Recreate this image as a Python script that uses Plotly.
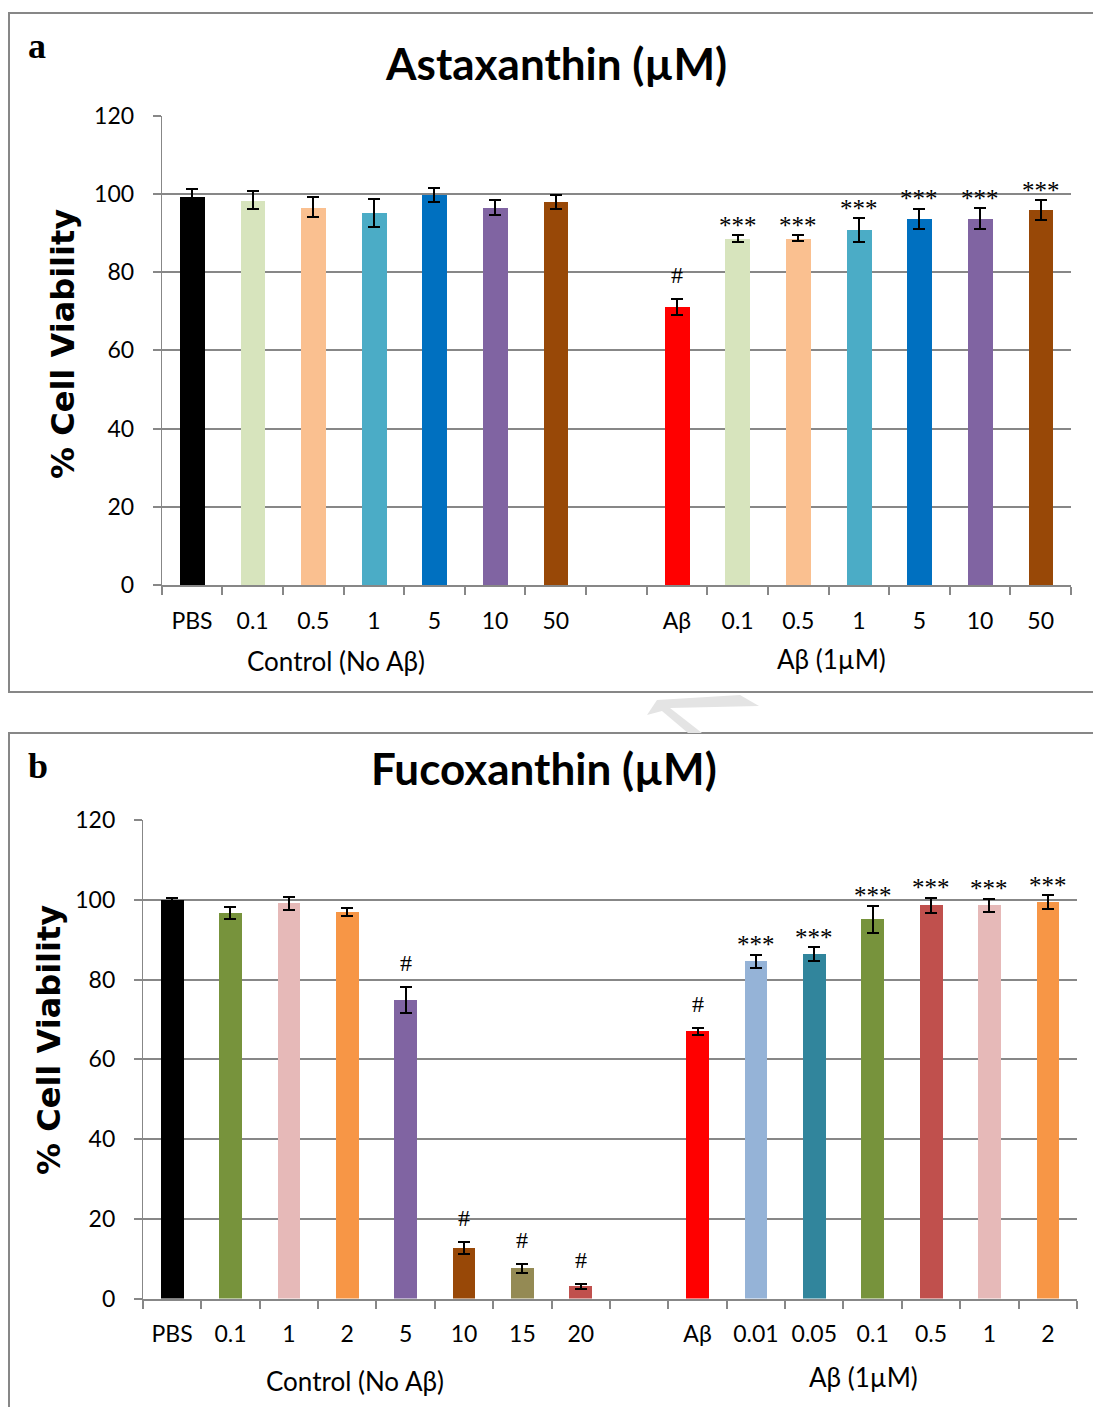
import plotly.graph_objects as go

W, H = 1093, 1407

# ---------------- data ----------------
# Panel a: Astaxanthin
a_ctrl_labels = ["PBS", "0.1", "0.5", "1", "5", "10", "50"]
a_ctrl_values = [99.2, 98.4, 96.6, 95.1, 99.7, 96.4, 98.0]
a_ctrl_errors = [1.9, 2.2, 2.5, 3.5, 1.8, 1.9, 1.8]
a_ctrl_sig = ["", "", "", "", "", "", ""]
a_ctrl_colors = ["#000000", "#D7E4BD", "#FAC090", "#4BACC6", "#0070C0", "#8064A2", "#984807"]

a_ab_labels = ["Aβ", "0.1", "0.5", "1", "5", "10", "50"]
a_ab_values = [71.1, 88.5, 88.7, 90.8, 93.6, 93.6, 95.9]
a_ab_errors = [2.0, 0.85, 0.75, 3.0, 2.6, 2.7, 2.5]
a_ab_sig = ["#", "***", "***", "***", "***", "***", "***"]
a_ab_colors = ["#FF0000", "#D7E4BD", "#FAC090", "#4BACC6", "#0070C0", "#8064A2", "#984807"]

# Panel b: Fucoxanthin
b_ctrl_labels = ["PBS", "0.1", "1", "2", "5", "10", "15", "20"]
b_ctrl_values = [99.9, 96.6, 99.1, 96.9, 74.8, 12.7, 7.6, 3.1]
b_ctrl_errors = [0.6, 1.5, 1.65, 1.0, 3.25, 1.5, 1.1, 0.65]
b_ctrl_sig = ["", "", "", "", "#", "#", "#", "#"]
b_ctrl_colors = ["#000000", "#77933C", "#E6B9B8", "#F79646", "#8064A2", "#984807", "#948A54", "#C0504D"]

b_ab_labels = ["Aβ", "0.01", "0.05", "0.1", "0.5", "1", "2"]
b_ab_values = [67.0, 84.6, 86.3, 95.1, 98.6, 98.6, 99.4]
b_ab_errors = [0.8, 1.6, 1.75, 3.4, 1.9, 1.6, 1.7]
b_ab_sig = ["#", "***", "***", "***", "***", "***", "***"]
b_ab_colors = ["#FF0000", "#95B3D7", "#31859C", "#77933C", "#C0504D", "#E6B9B8", "#F79646"]

group_labels = ["Control (No Aβ)", "Aβ (1µM)"]
titles = ["Astaxanthin (µM)", "Fucoxanthin (µM)"]
panel_letters = ["a", "b"]
y_title = "% Cell Viability"
y_ticks = [0, 20, 40, 60, 80, 100, 120]

GRID = "#878787"
FONT = "Lato"


def px(x):
    return x / W


def py(y):
    return 1 - y / H


fig = go.Figure()
annotations = []
shapes = []

panels = [
    dict(ctrl=(a_ctrl_labels, a_ctrl_values, a_ctrl_errors, a_ctrl_sig, a_ctrl_colors),
         ab=(a_ab_labels, a_ab_values, a_ab_errors, a_ab_sig, a_ab_colors),
         xdom=(161.7, 1071), ydom=(115.5, 585.3), width=0.41,
         title_xy=(556, 63), letter_xy=(37, 46), ytitle_xy=(63, 344),
         group_x=(336, 831), group_y=(661, 659), box_top=13, box_bottom=692,
         tick_standoff=14),
    dict(ctrl=(b_ctrl_labels, b_ctrl_values, b_ctrl_errors, b_ctrl_sig, b_ctrl_colors),
         ab=(b_ab_labels, b_ab_values, b_ab_errors, b_ab_sig, b_ab_colors),
         xdom=(142.9, 1077), ydom=(820, 1298.5), width=0.39,
         title_xy=(544, 768), letter_xy=(38, 766), ytitle_xy=(49, 1040),
         group_x=(355, 863), group_y=(1381, 1377), box_top=733, box_bottom=1420,
         tick_standoff=14),
]

for i, p in enumerate(panels):
    xa = "x" if i == 0 else "x2"
    ya = "y" if i == 0 else "y2"
    cl, cv, ce, cs, cc = p["ctrl"]
    al, av, ae, asg, ac = p["ab"]
    n_ctrl = len(cl)
    xs = list(range(n_ctrl)) + [n_ctrl + 1 + k for k in range(len(al))]
    labels = cl + al
    vals = cv + av
    errs = ce + ae
    sigs = cs + asg
    cols = cc + ac
    n_cat = n_ctrl + 1 + len(al)

    fig.add_trace(go.Bar(
        x=xs, y=vals, marker=dict(color=cols, line=dict(width=0)), width=p["width"],
        error_y=dict(type="data", array=errs, color="black", thickness=2, width=6),
        xaxis=xa, yaxis=ya, hoverinfo="skip", showlegend=False,
    ))

    for x, v, e, s in zip(xs, vals, errs, sigs):
        if s:
            annotations.append(dict(
                x=x, y=v + e, xref=xa, yref=ya, text=s, showarrow=False,
                yanchor="middle", yshift=(24 if s == "#" else 10),
                font=dict(family="Liberation Serif", size=(24 if s == "#" else 25), color="black"),
            ))

    xkey = "xaxis" if i == 0 else "xaxis2"
    ykey = "yaxis" if i == 0 else "yaxis2"
    fig.update_layout(**{
        xkey: dict(
            domain=[px(p["xdom"][0]), px(p["xdom"][1])], anchor=ya, automargin=False,
            range=[-0.5, n_cat - 0.5], tickmode="array", tickvals=xs, ticktext=labels,
            ticks="", showgrid=False, zeroline=False, showline=True,
            linecolor=GRID, linewidth=2, ticklabelstandoff=p["tick_standoff"],
            tickfont=dict(family=FONT, size=23, color="black"),
            minor=dict(tick0=-0.5, dtick=1, ticks="outside", ticklen=8,
                       tickcolor=GRID, tickwidth=1.5, showgrid=False),
        ),
        ykey: dict(
            domain=[py(p["ydom"][1]), py(p["ydom"][0])], anchor=xa, automargin=False,
            range=[0, 120], tickmode="array", tickvals=y_ticks,
            ticks="outside", ticklen=8, tickcolor=GRID, tickwidth=2,
            showgrid=True, gridcolor=GRID, gridwidth=2, zeroline=False,
            showline=True, linecolor=GRID, linewidth=1,
            ticklabelstandoff=14,
            tickfont=dict(family=FONT, size=23, color="black"),
        ),
    })

    # group labels
    for gx, gy, gl in zip(p["group_x"], p["group_y"], group_labels):
        annotations.append(dict(
            x=px(gx), y=py(gy), xref="paper", yref="paper", text=gl, showarrow=False,
            xanchor="center", yanchor="middle",
            font=dict(family=FONT, size=26, color="black"),
        ))
    # title
    annotations.append(dict(
        x=px(p["title_xy"][0]), y=py(p["title_xy"][1]), xref="paper", yref="paper",
        text="<b>%s</b>" % titles[i], showarrow=False, xanchor="center", yanchor="middle",
        font=dict(family=FONT, size=44, color="black"),
    ))
    # panel letter
    annotations.append(dict(
        x=px(p["letter_xy"][0]), y=py(p["letter_xy"][1]), xref="paper", yref="paper",
        text="<b>%s</b>" % panel_letters[i], showarrow=False, xanchor="center", yanchor="middle",
        font=dict(family="Liberation Serif", size=36, color="black"),
    ))
    # y title
    annotations.append(dict(
        x=px(p["ytitle_xy"][0]), y=py(p["ytitle_xy"][1]), xref="paper", yref="paper",
        text="<b>%s</b>" % y_title, showarrow=False, textangle=-90,
        xanchor="center", yanchor="middle",
        font=dict(family="DejaVu Sans", size=32, color="black"),
    ))
    # outer frame
    shapes.append(dict(
        type="rect", xref="paper", yref="paper",
        x0=px(9), x1=px(1110), y0=py(p["box_bottom"]), y1=py(p["box_top"]),
        line=dict(color=GRID, width=2), fillcolor="rgba(0,0,0,0)", layer="below",
    ))

# faint watermark arrow between panels
wm = [(647, 715), (657, 700), (740, 695), (759, 706), (670, 708), (702, 733), (688, 733), (662, 711)]
path = "M " + " L ".join("%.5f,%.5f" % (px(a), py(b)) for a, b in wm) + " Z"
shapes.append(dict(type="path", xref="paper", yref="paper", path=path,
                   fillcolor="#E4E4E4", line=dict(width=0), layer="below"))

fig.update_layout(
    template="none",
    width=W, height=H, margin=dict(l=0, r=0, t=0, b=0, pad=0, autoexpand=False),
    paper_bgcolor="white", plot_bgcolor="white", showlegend=False,
    bargap=0, annotations=annotations, shapes=shapes,
)

fig.write_html("out.html", config={"displayModeBar": False},
               post_script="document.body.style.margin='0';")
